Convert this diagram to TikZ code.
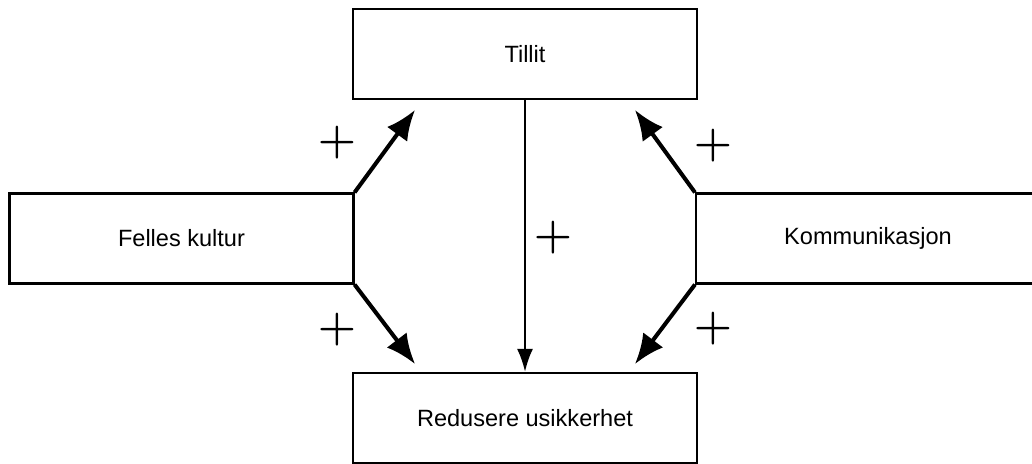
\documentclass[tikz,border=0pt]{standalone}
\usepackage{fontspec}
\setmainfont{Liberation Sans}
\usetikzlibrary{arrows, arrows.meta}

\begin{document}
\begin{tikzpicture}[
  box/.style={draw, line width=1.2pt, minimum width=6.88cm, minimum height=1.8cm, font=\fontsize{13.4}{16}\selectfont},
  plus/.style={font=\fontsize{33}{33}\selectfont\boldmath},
  thick arrow/.style={line width=2.3pt, -{Latex[length=0.6cm, width=0.5cm]}},
  thin arrow/.style={line width=1.4pt, -{Latex[length=0.46cm, width=0.32cm]}}]
\useasboundingbox (0,0) rectangle (20.64,-9.28);
\node[box] (tillit) at (10.5,-1.08){Tillit};
\node[box] (kultur) at (3.63,-4.77){Felles kultur};
\node[box] (komm) at (17.36,-4.77){Kommunikasjon};
\node[box] (usikker) at (10.5,-8.36){Redusere usikkerhet};

\coordinate (tl) at (8.3,-2.2);\coordinate (bl) at (8.3,-7.28);
\coordinate (tr) at (12.7,-2.2);\coordinate (br) at (12.7,-7.28);

\draw[thick arrow] (kultur.north east)--(tl);\draw[thick arrow] (kultur.south east)--(bl);
\draw[thick arrow] (komm.north west)--(tr);\draw[thick arrow] (komm.south west)--(br);
\draw[thin arrow] (tillit.south)--(usikker.north);

\node[plus] (p1) at (6.74,-2.86){$+$};\node[plus] (p2) at (14.26,-2.92){$+$};
\node[plus] (p3) at (11.06,-4.76){$+$};
\node[plus] (p4) at (6.74,-6.6){$+$};\node[plus] (p5) at (14.26,-6.58){$+$};
\end{tikzpicture}
\end{document}
